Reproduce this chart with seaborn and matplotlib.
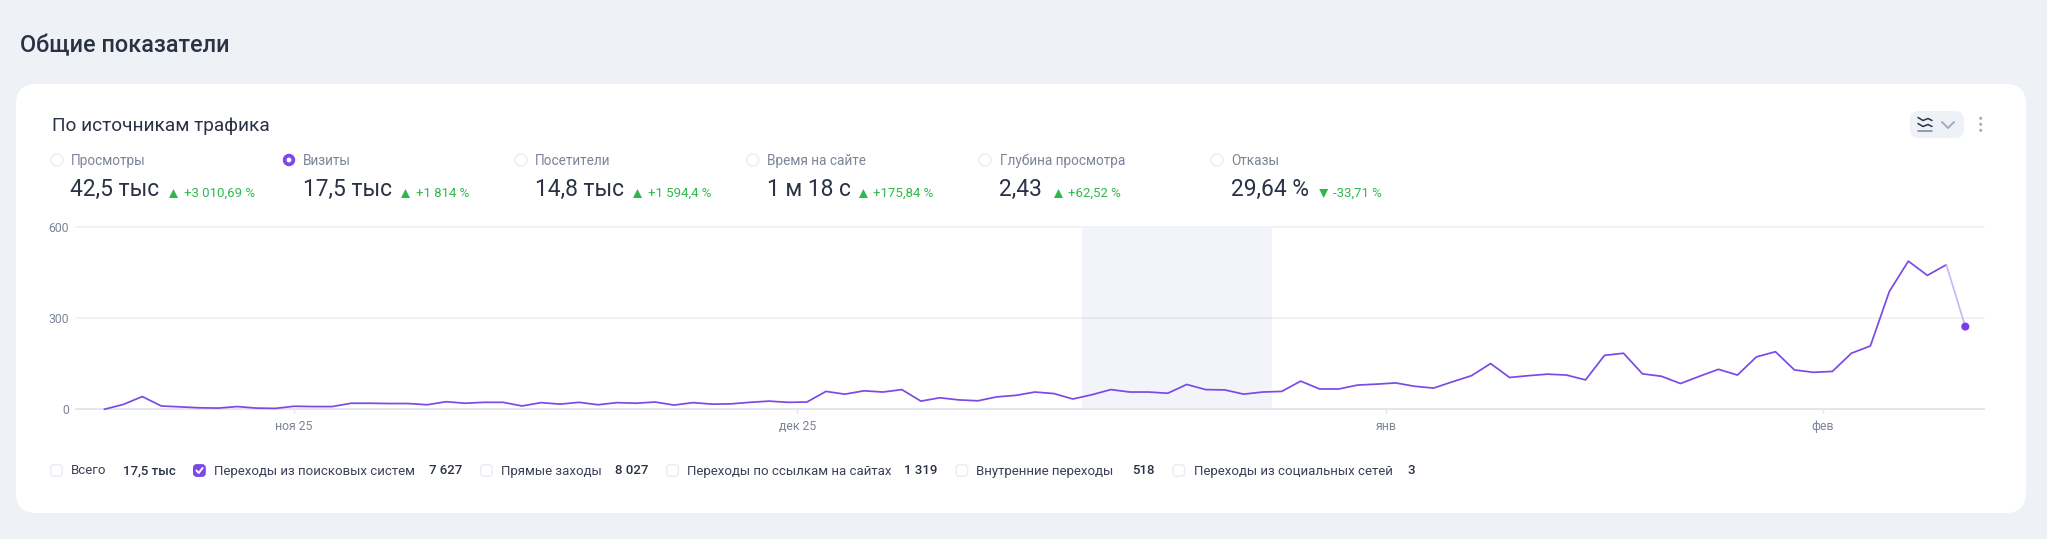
import matplotlib
matplotlib.use("Agg")
import matplotlib.pyplot as plt
from matplotlib.patches import Circle, FancyBboxPatch, Polygon
import numpy as np
import pandas as pd
import seaborn as sns

# Daily visits from search engines
visits = [0, 16, 42, 11, 8, 5, 4, 9, 4, 3, 10, 9, 9, 20, 20, 19, 19, 15, 25, 20,
          23, 23, 11, 22, 17, 23, 15, 22, 20, 24, 14, 22, 17, 18, 23, 27, 23, 24,
          59, 50, 61, 57, 65, 27, 38, 31, 28, 41, 46, 57, 52, 34, 48, 65, 57, 57,
          53, 82, 65, 64, 50, 57, 59, 93, 67, 67, 80, 83, 87, 76, 70, 91, 111, 151,
          105, 111, 116, 113, 97, 178, 185, 117, 109, 85, 109, 132, 113, 173, 190,
          130, 122, 125, 185, 209, 389, 489, 442, 477, 273]
month_ticks = [10, 36.5, 67.5, 90.5]
month_labels = ["ноя 25", "дек 25", "янв", "фев"]
value_ticks = [0, 300, 600]
highlight_band = (51.5, 61.5)

metric_names = ["Просмотры", "Визиты", "Посетители", "Время на сайте", "Глубина просмотра", "Отказы"]
metric_values = ["42,5 тыс", "17,5 тыс", "14,8 тыс", "1 м 18 с", "2,43", "29,64 %"]
metric_deltas = ["+3 010,69 %", "+1 814 %", "+1 594,4 %", "+175,84 %", "+62,52 %", "-33,71 %"]
metric_up = [True, True, True, True, True, False]

source_names = ["Всего", "Переходы из поисковых систем", "Прямые заходы",
                "Переходы по ссылкам на сайтах", "Внутренние переходы", "Переходы из социальных сетей"]
source_values = ["17,5 тыс", "7 627", "8 027", "1 319", "518", "3"]

PAGE = "#EEF1F6"
PURPLE = "#7B4AE6"
DARK = "#2B3245"
MUTED = "#7C8499"
GREEN = "#2FB84D"
RING = "#E9ECF2"

sns.set_theme(style="white")
plt.rcParams["font.family"] = ["Roboto", "DejaVu Sans"]

fig = plt.figure(figsize=(20.47, 5.39), dpi=100, facecolor=PAGE)

# Page-level layer in pixel units for the card and its controls
ui = fig.add_axes([0, 0, 1, 1], zorder=0)
ui.set_xlim(0, 2047)
ui.set_ylim(539, 0)
ui.axis("off")

ui.add_patch(FancyBboxPatch((16 + 20, 84 + 20), 2010 - 40, 429 - 40,
                            boxstyle="round,pad=20,rounding_size=20", fc="white", ec="none"))
ui.text(20, 46, "Общие показатели", fontsize=16.9, color=DARK, va="center", weight="medium")
ui.text(52, 126, "По источникам трафика", fontsize=13.7, color=DARK, va="center")

# Chart-type switcher and menu dots
ui.add_patch(FancyBboxPatch((1919, 120), 36, 9, boxstyle="round,pad=9,rounding_size=9", fc=PAGE, ec="none"))
for y0 in (119, 125):
    ui.plot([1918, 1923, 1928, 1932], [y0 - 1.5, y0 + 1.5, y0 - 0.5, y0 + 1.5], color=DARK, lw=1.1)
ui.plot([1918, 1932], [131, 131], color=MUTED, lw=1.1)
ui.plot([1942, 1948, 1954], [122, 128, 122], color="#A3ABC0", lw=1.4)
for y0 in (118.3, 124.3, 130.3):
    ui.add_patch(Circle((1980.7, y0), 1.5, fc="#A3ABC0", ec="none"))

# Metric selector row
radio_x = [57, 289, 521, 752.7, 985, 1217]
label_x = [70.5, 303, 535, 767, 999.5, 1231]
tri_x = [173.5, 405.5, 637.5, 863.4, 1058.5, 1323.7]
delta_x = [183.5, 415.6, 647.8, 873, 1068, 1333]
for i, name in enumerate(metric_names):
    if i == 1:
        ui.add_patch(Circle((radio_x[i], 160), 6.2, fc=PURPLE, ec="none"))
        ui.add_patch(Circle((radio_x[i], 160), 2.4, fc="white", ec="none"))
    else:
        ui.add_patch(Circle((radio_x[i], 160), 6, fc="white", ec=RING, lw=1))
    ui.text(label_x[i], 160.7, name, fontsize=9.8, color=MUTED, va="center")
    ui.text(label_x[i], 189, metric_values[i], fontsize=16.4, color=DARK, va="center")
    tx = tri_x[i]
    if metric_up[i]:
        ui.add_patch(Polygon([(tx - 4.5, 198), (tx + 4.5, 198), (tx, 189)], fc=GREEN, ec="none"))
    else:
        ui.add_patch(Polygon([(tx - 4.5, 189), (tx + 4.5, 189), (tx, 198)], fc=GREEN, ec="none"))
    ui.text(delta_x[i], 193.7, metric_deltas[i], fontsize=9.5, color=GREEN, va="center")

# Source checkboxes under the chart
box_x = [56.5, 199.4, 486.4, 672.6, 961.9, 1178.8]
name_x = [70.8, 213.7, 501, 687.3, 975.7, 1193.6]
value_x = [122.6, 429.3, 615.4, 904.3, 1132, 1407.8]
for i, name in enumerate(source_names):
    checked = i == 1
    ui.add_patch(FancyBboxPatch((box_x[i] - 3.5, 470.5 - 3.5), 7, 7,
                                boxstyle="round,pad=2.2,rounding_size=3",
                                fc=PURPLE if checked else "white",
                                ec=PURPLE if checked else RING, lw=1))
    if checked:
        ui.plot([box_x[i] - 3, box_x[i] - 0.7, box_x[i] + 3.2], [470.5, 473, 468],
                color="white", lw=1.4, solid_capstyle="round")
    ui.text(name_x[i], 471, name, fontsize=9.5, color="#3A4154", va="center")
    ui.text(value_x[i], 471, source_values[i], fontsize=9.5, color=DARK, va="center", weight="medium")

# Line chart: the last, still incomplete day is drawn lighter
ax_left, ax_right, ax_top, ax_bottom = 76, 1984, 227.5, 409.3
ax = fig.add_axes([ax_left / 2047, 1 - ax_bottom / 539, (ax_right - ax_left) / 2047,
                   (ax_bottom - ax_top) / 539], zorder=1)
ax.patch.set_alpha(0)
step = 18.99
ax.set_xlim((ax_left - 104.3) / step, (ax_right - 104.3) / step)
ax.set_ylim(0, 600)

frame = pd.DataFrame({"day": np.arange(len(visits)), "visits": visits})
ax.axvspan(*highlight_band, color="#F3F4F9", lw=0, zorder=0)
sns.lineplot(data=frame.iloc[:-1], x="day", y="visits", ax=ax, color=PURPLE, lw=1.25,
             clip_on=False, zorder=3)
sns.lineplot(data=frame.iloc[-2:], x="day", y="visits", ax=ax, color="#C9B8F5", lw=1.25,
             clip_on=False, zorder=3)
sns.scatterplot(data=frame.iloc[-1:], x="day", y="visits", ax=ax, color="#7A3FE4", s=34,
                edgecolor="none", clip_on=False, zorder=4)

ax.set_xlabel("")
ax.set_ylabel("")
ax.set_yticks(value_ticks, [str(v) for v in value_ticks])
ax.set_xticks(month_ticks, month_labels)
ax.tick_params(axis="y", length=0, pad=5, labelsize=8.8, labelcolor=MUTED)
ax.tick_params(axis="x", length=3, width=1, color="#E2E5EE", pad=5, labelsize=8.8, labelcolor=MUTED,
               bottom=True)
# Translucent gridlines stay visible across the highlighted band
ax.grid(axis="y", color="#2A3C8C", alpha=0.075, lw=1.3)
for gridline in ax.get_ygridlines():
    gridline.set_clip_on(False)
ax.set_axisbelow(True)
sns.despine(ax=ax, left=True)
ax.spines["bottom"].set_color("#E2E5EE")
ax.spines["bottom"].set_linewidth(1.3)

fig.savefig("out.png", dpi=100, facecolor=PAGE)
